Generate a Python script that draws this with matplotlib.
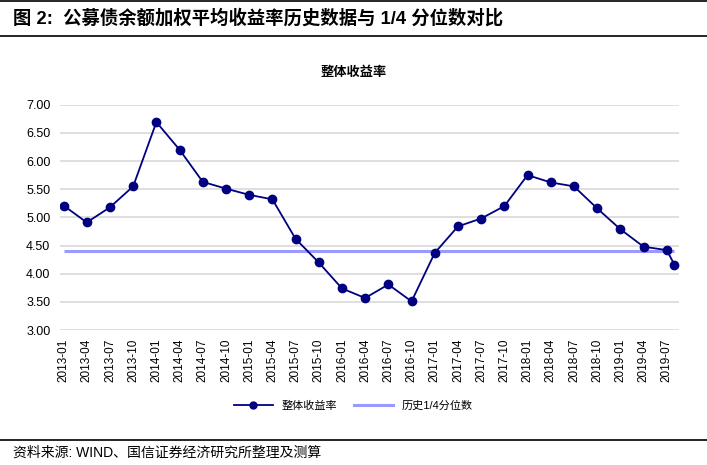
import matplotlib
matplotlib.use('Agg')
import matplotlib.pyplot as plt
from matplotlib.lines import Line2D

plt.rcParams['font.family'] = ['Liberation Sans', 'Noto Sans CJK SC']

# monthly dates of the observations (last one is 2019-08)
dates = ['2013-01', '2013-04', '2013-07', '2013-10',
         '2014-01', '2014-04', '2014-07', '2014-10',
         '2015-01', '2015-04', '2015-07', '2015-10',
         '2016-01', '2016-04', '2016-07', '2016-10',
         '2017-01', '2017-04', '2017-07', '2017-10',
         '2018-01', '2018-04', '2018-07', '2018-10',
         '2019-01', '2019-04', '2019-07', '2019-08']
yields = [5.21, 4.91, 5.18, 5.55,
          6.69, 6.20, 5.63, 5.51,
          5.40, 5.32, 4.62, 4.20,
          3.74, 3.57, 3.81, 3.51,
          4.37, 4.84, 4.98, 5.20,
          5.75, 5.62, 5.55, 5.16,
          4.79, 4.48, 4.42, 4.16]
quartile = 4.41
tick_labels = dates[:-1]


def month_index(d):
    y, m = d.split('-')
    return (int(y) - 2013) * 12 + int(m) - 1


x = [month_index(d) for d in dates]
xt = [month_index(d) for d in tick_labels]

fig = plt.figure(figsize=(7.07, 4.65), dpi=100)
ax = fig.add_axes([0.085, 0.29, 0.875, 0.485])

ax.plot([x[0], x[-1]], [quartile, quartile], color='#9999FF', lw=2.2,
        solid_capstyle='butt', zorder=2)
ax.plot(x, yields, color='#000080', lw=1.3, marker='o', markersize=6,
        zorder=3)

ax.set_xlim(-0.45, 79.55)
ax.set_ylim(3.0, 7.0)
ax.set_yticks([3.0 + 0.5 * i for i in range(9)])
ax.set_yticklabels([f'{3.0 + 0.5 * i:.2f}' for i in range(9)], fontsize=9)
ax.set_xticks(xt)
ax.set_xticklabels(tick_labels, rotation=90, fontsize=8.5)
ax.tick_params(axis='both', length=0, pad=7)
ax.tick_params(axis='x', pad=6)
ax.grid(axis='y', color='#D9D9D9', lw=1.2)
ax.set_axisbelow(True)
for s in ax.spines.values():
    s.set_visible(False)

fig.text(0.5, 1 - 73 / 465, '整体收益率', ha='center', va='center',
         fontsize=9.5, fontweight='bold')

handles = [Line2D([], [], color='#000080', lw=1.3, marker='o', markersize=5),
           Line2D([], [], color='#9999FF', lw=2.2)]
fig.legend(handles, ['整体收益率', '历史1/4分位数'], loc='center',
           bbox_to_anchor=(0.5, 1 - 406 / 465), ncol=2, frameon=False,
           fontsize=8, handlelength=3.5, columnspacing=1.5)

# header and footer
fig.text(13 / 707, 1 - 18 / 465, '图 2:  公募债余额加权平均收益率历史数据与 1/4 分位数对比',
         ha='left', va='center', fontsize=13.2, fontweight='bold')
fig.add_artist(Line2D([0, 1], [1 - 1.5 / 465, 1 - 1.5 / 465], color='black', lw=1.2))
fig.add_artist(Line2D([0, 1], [1 - 36 / 465, 1 - 36 / 465], color='black', lw=1.2))
fig.add_artist(Line2D([0, 1], [1 - 440 / 465, 1 - 440 / 465], color='black', lw=1.2))
fig.text(13 / 707, 1 - 453 / 465, '资料来源: WIND、国信证券经济研究所整理及测算',
         ha='left', va='center', fontsize=10)

fig.savefig('out.png', dpi=100)
